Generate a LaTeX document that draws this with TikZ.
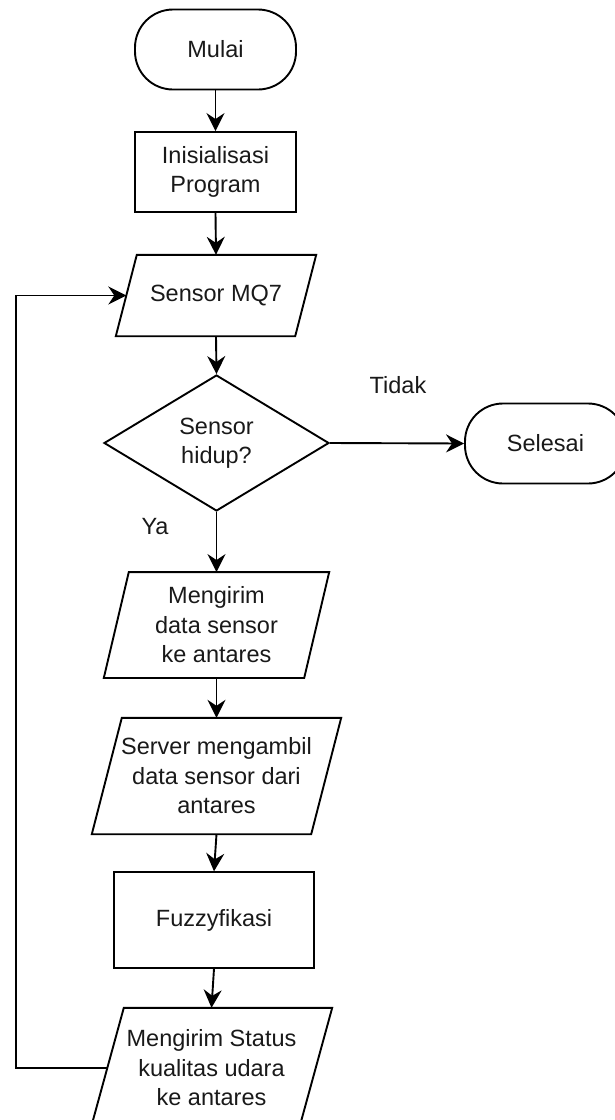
\documentclass[tikz,border=0pt]{standalone}
\usepackage{fontspec}
\setmainfont{Liberation Sans}
\usetikzlibrary{shapes.geometric,arrows.meta,calc}
\newcommand\paraframe[2]{\draw[frame] (#1.south west) -- ($(#1.north west)+(#2,0)$) -- (#1.north east) -- ($(#1.south east)-(#2,0)$) -- cycle;}
\begin{document}
\begin{tikzpicture}[x=1pt,y=-1pt,
  every node/.style={font=\fontsize{23.5}{29.5}\selectfont, text=black!90, inner sep=0pt, align=center},
  frame/.style={draw=black, line width=1.9pt, line join=miter},
  termbox/.style={frame, rounded corners=38pt, minimum width=161pt, minimum height=80pt},
  procbox/.style={frame},
  iobox/.style={},
  decbox/.style={frame, diamond, minimum width=225pt, minimum height=136pt, aspect=1.65},
  conn/.style={draw=black, line width=1.9pt, -{Stealth[length=18pt,width=18pt,inset=6pt]}},
  lbl/.style={}]
\useasboundingbox (0,0) rectangle (615,1120);
\node[termbox] (start) at (215.5,49.5) {Mulai};
\node[procbox, minimum width=161pt, minimum height=80pt] (init) at (215.5,172) {Inisialisasi\\Program};
\node[iobox, minimum width=200pt, minimum height=81pt] (mq7) at (216,295.5) {Sensor MQ7};
\node[decbox] (dec) at (216.5,443) {Sensor\\hidup?};
\node[termbox] (stop) at (545.5,443.5) {Selesai};
\node[iobox, minimum width=225pt, minimum height=105.5pt] (send) at (216.5,625) {Mengirim\\data sensor\\ke antares};
\node[iobox, minimum width=249pt, minimum height=116pt] (srv) at (216.5,776) {Server mengambil\\data sensor dari\\antares};
\node[procbox, minimum width=200pt, minimum height=95.5pt] (fuzzy) at (214,920) {Fuzzyfikasi};
\node[iobox, minimum width=241pt, minimum height=120pt] (status) at (211.5,1068) {Mengirim Status\\kualitas udara\\ke antares};
\paraframe{mq7}{21}
\paraframe{send}{25}
\paraframe{srv}{30}
\paraframe{status}{33}
\node[lbl] (tidak) at (398,385) {Tidak};
\node[lbl] (ya) at (155,527) {Ya};
\coordinate (loopx) at (16,0);
\draw[conn] (start.south) -- (init.north);
\draw[conn] (init.south) -- (mq7.north);
\draw[conn] (mq7.south) -- (dec.north);
\draw[conn] (dec.east) -- (stop.west);
\draw[conn] (dec.south) -- (send.north);
\draw[conn] (send.south) -- (srv.north);
\draw[conn] (srv.south) -- (fuzzy.north);
\draw[conn] (fuzzy.south) -- (status.north);
\draw[conn] ($(status.west)+(16.5,0)$) -- (loopx |- status.west) -- (loopx |- mq7.west) -- ($(mq7.west)+(10.5,0)$);
\end{tikzpicture}
\end{document}
